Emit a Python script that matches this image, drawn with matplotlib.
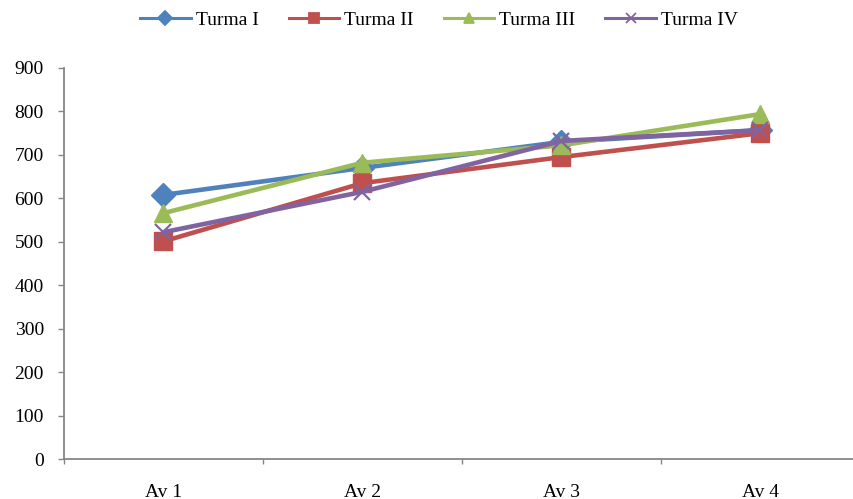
import matplotlib
matplotlib.use("Agg")
import matplotlib.pyplot as plt
import numpy as np

categories = ["Av 1", "Av 2", "Av 3", "Av 4"]
series_names = ["Turma I", "Turma II", "Turma III", "Turma IV"]
turma1 = [608, 670, 730, 757]
turma2 = [501, 635, 695, 750]
turma3 = [566, 682, 722, 794]
turma4 = [522, 615, 732, 757]
yticks = [0, 100, 200, 300, 400, 500, 600, 700, 800, 900]

colors = ["#4F81BD", "#C0504D", "#9BBB59", "#8064A2"]
markers = ["D", "s", "^", "x"]
msizes = [12, 12.5, 13, 11]

plt.rcParams['font.family'] = ['Liberation Serif', 'DejaVu Serif']

fig = plt.figure(figsize=(8.54, 4.99), dpi=100)
W, H = 854, 499
left, right, top, bottom = 64, 860, 68, 459
ax = fig.add_axes([left / W, 1 - bottom / H, (right - left) / W, (bottom - top) / H])

x = np.arange(len(categories))
for i, (name, vals) in enumerate(zip(series_names, [turma1, turma2, turma3, turma4])):
    kw = dict(color=colors[i], linewidth=3.3, marker=markers[i], markersize=msizes[i],
              label=name, solid_capstyle='round', zorder=3 + i)
    if markers[i] == "x":
        kw.update(markeredgewidth=1.6)
    ax.plot(x, vals, **kw)

ax.set_xlim(-0.5, 3.5)
ax.set_ylim(0, 900)
ax.set_yticks(yticks)
ax.set_yticklabels([str(v) for v in yticks], fontsize=14)
ax.set_xticks(x)
ax.set_xticklabels(categories, fontsize=14)
ax.set_xticks(np.arange(-0.5, 4.0, 1.0), minor=True)
ax.tick_params(axis='x', which='major', length=0, pad=18)
ax.tick_params(axis='x', which='minor', length=3.6, color='#868686', width=1)
ax.tick_params(axis='y', length=4.5, color='#868686', width=1, pad=10)

for s in ['top', 'right']:
    ax.spines[s].set_visible(False)
for s in ['left', 'bottom']:
    ax.spines[s].set_color('#868686')
    ax.spines[s].set_linewidth(1.3)

handles, labels = ax.get_legend_handles_labels()
leg_handles = []
for i, h in enumerate(handles):
    lh, = ax.plot([], [], color=colors[i], linewidth=2.2, marker=markers[i],
                  markersize=7 if markers[i] != "x" else 7, markeredgewidth=1.3)
    leg_handles.append(lh)
fig.legend(leg_handles, labels, loc='center', bbox_to_anchor=(0.514, 1 - 20 / H), ncol=4,
           frameon=False, fontsize=14, handlelength=2.6, columnspacing=1.55,
           handletextpad=0.25)

fig.savefig("out.png", dpi=100)
